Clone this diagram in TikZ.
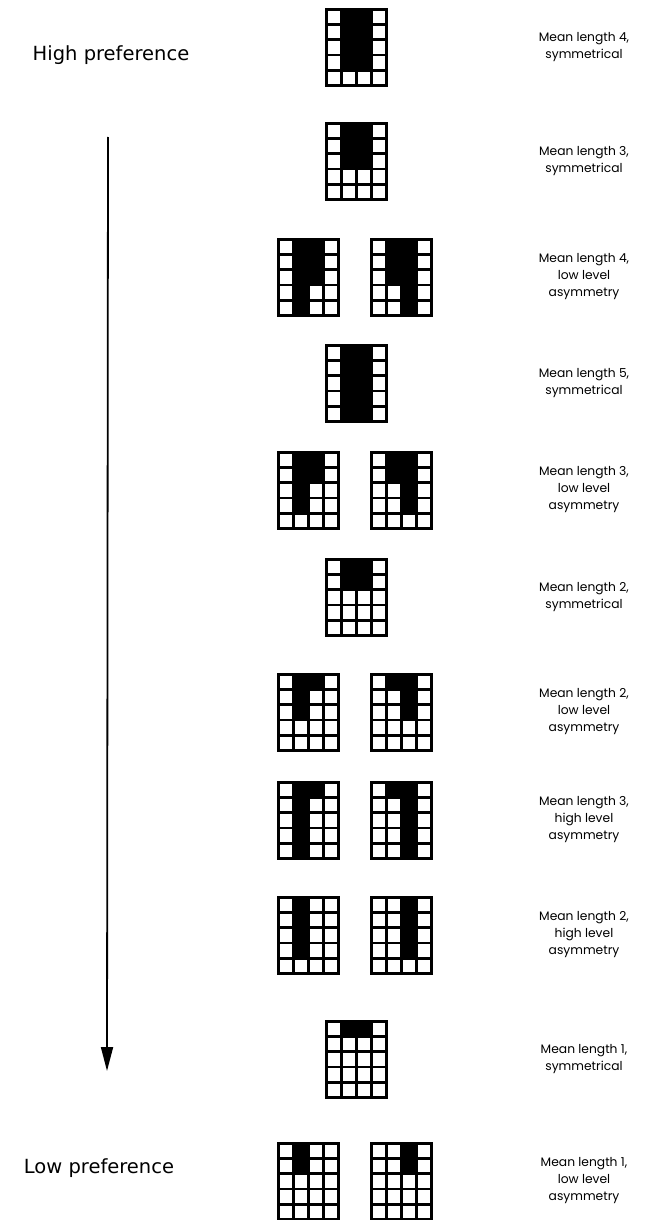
\documentclass[tikz,border=0pt]{standalone}
\usepackage{fontspec}
\newfontfamily\lblfont{Poppins}
\newfontfamily\prefont{DejaVu Sans}
\usetikzlibrary{arrows.meta}
\tikzset{
  gridline/.style={line width=2.8pt, line cap=rect},
  lbl/.style={align=center, inner sep=0pt, font=\lblfont\fontsize{12.3}{17}\selectfont},
  pref/.style={inner sep=0pt, font=\prefont\fontsize{19.5}{22}\selectfont},
  pics/cellgrid/.style 2 args={code={
    \ifnum#1>0 \fill ({16.4},{1.4}) rectangle ({31.4},{#1*15.2+1.4}); \fi
    \ifnum#2>0 \fill ({31.4},{1.4}) rectangle ({46.4},{#2*15.2+1.4}); \fi
    \foreach \i in {0,...,4} \draw[gridline] ({\i*15+1.4},{1.4}) -- ({\i*15+1.4},{5*15.2+1.4});
    \foreach \j in {0,...,5} \draw[gridline] ({1.4},{\j*15.2+1.4}) -- ({4*15+1.4},{\j*15.2+1.4});
  }}
}
\begin{document}
\begin{tikzpicture}[x=1pt,y=-1pt]
\useasboundingbox (0,0) rectangle (645,1220);
% grids
\pic (g1) at (325,8) {cellgrid={4}{4}};
\pic (g2) at (325,122) {cellgrid={3}{3}};
\pic (g3a) at (277,238) {cellgrid={5}{3}};
\pic (g3b) at (370,238) {cellgrid={3}{5}};
\pic (g4) at (325,344) {cellgrid={5}{5}};
\pic (g5a) at (277,451) {cellgrid={4}{2}};
\pic (g5b) at (370,451) {cellgrid={2}{4}};
\pic (g6) at (325,558) {cellgrid={2}{2}};
\pic (g7a) at (277,673) {cellgrid={3}{1}};
\pic (g7b) at (370,673) {cellgrid={1}{3}};
\pic (g8a) at (277,781) {cellgrid={5}{1}};
\pic (g8b) at (370,781) {cellgrid={1}{5}};
\pic (g9a) at (277,896) {cellgrid={4}{0}};
\pic (g9b) at (370,896) {cellgrid={0}{4}};
\pic (g10) at (325,1020) {cellgrid={1}{1}};
\pic (g11a) at (277,1142) {cellgrid={2}{0}};
\pic (g11b) at (370,1142) {cellgrid={0}{2}};
% labels
\node[lbl] (l1) at (584,47) {Mean length 4,\\symmetrical};
\node[lbl] (l2) at (584,161) {Mean length 3,\\symmetrical};
\node[lbl] (l3) at (584,277) {Mean length 4,\\low level\\asymmetry};
\node[lbl] (l4) at (584,383) {Mean length 5,\\symmetrical};
\node[lbl] (l5) at (584,490) {Mean length 3,\\low level\\asymmetry};
\node[lbl] (l6) at (584,597) {Mean length 2,\\symmetrical};
\node[lbl] (l7) at (584,712) {Mean length 2,\\low level\\asymmetry};
\node[lbl] (l8) at (584,820) {Mean length 3,\\high level\\asymmetry};
\node[lbl] (l9) at (584,935) {Mean length 2,\\high level\\asymmetry};
\node[lbl] (l10) at (584,1059) {Mean length 1,\\symmetrical};
\node[lbl] (l11) at (584,1181) {Mean length 1,\\low level\\asymmetry};
\node[pref] (hp) at (111,55) {High preference};
\node[pref] (lp) at (99,1168) {Low preference};
% arrow
\coordinate (atop) at (108,137);
\coordinate (abot) at (107,1071);
\draw[line width=1.8pt, -{Triangle[length=24pt,width=12pt]}] (atop) -- (abot);
\end{tikzpicture}
\end{document}
